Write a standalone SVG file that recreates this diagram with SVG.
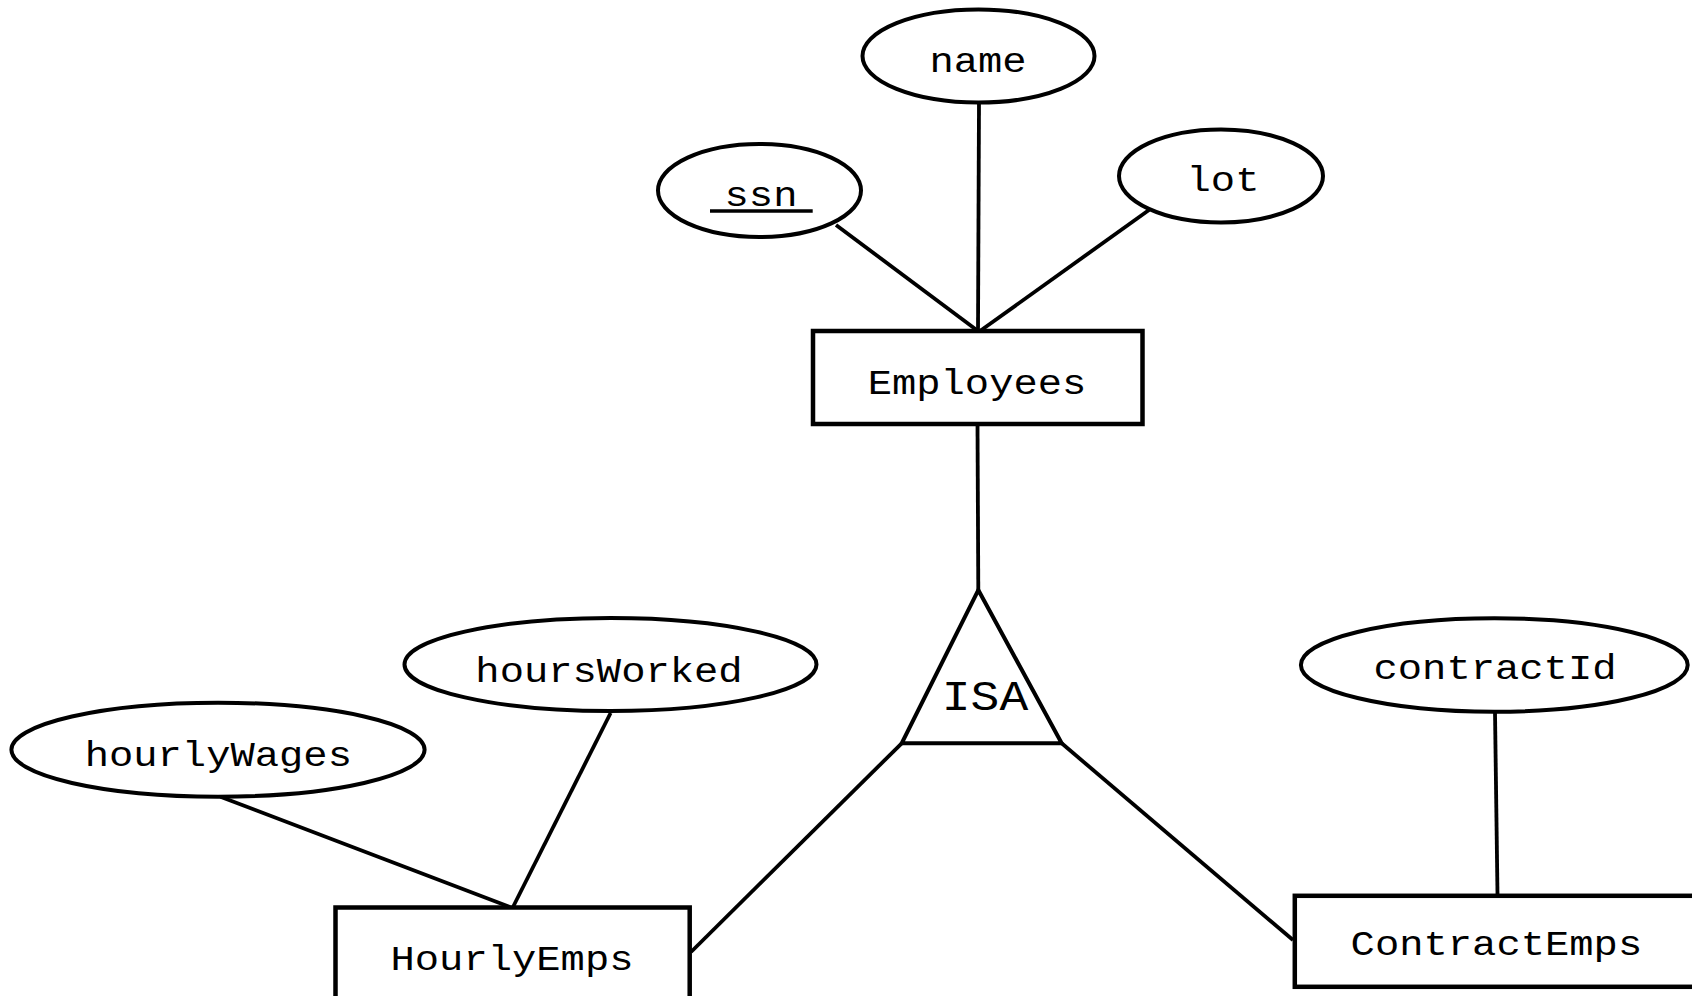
<svg xmlns="http://www.w3.org/2000/svg" width="1692" height="996" viewBox="0 0 1692 996">
  <style>
    .entity { fill: #ffffff; stroke: #000000; stroke-width: 4.5; }
    .attr { fill: #ffffff; stroke: #000000; stroke-width: 4; }
    .isa { fill: #ffffff; stroke: #000000; stroke-width: 4; stroke-linejoin: miter; }
    .link { stroke: #000000; stroke-width: 3.8; fill: none; }
    .label { font-family: "Liberation Mono", "Courier New", monospace; font-size: 40.5px; fill: #000000; text-anchor: middle; }
    .isa-label { font-family: "Liberation Mono", "Courier New", monospace; font-size: 48px; fill: #000000; text-anchor: middle; }
  </style>
  <rect x="0" y="0" width="1692" height="996" fill="#ffffff"/>

  <!-- connectors -->
  <g id="connectors">
    <line class="link" x1="836" y1="225" x2="978" y2="331"/>
    <line class="link" x1="979" y1="103" x2="978" y2="331"/>
    <line class="link" x1="1149" y1="210" x2="980" y2="331"/>
    <line class="link" x1="977.5" y1="424" x2="978.3" y2="590"/>
    <line class="link" x1="901.7" y1="743.3" x2="691" y2="952"/>
    <line class="link" x1="1061.7" y1="743.3" x2="1293" y2="940"/>
    <line class="link" x1="1495" y1="712" x2="1497.5" y2="895"/>
    <line class="link" x1="220.4" y1="796.7" x2="510" y2="907"/>
    <line class="link" x1="610.6" y1="713" x2="513" y2="907"/>
  </g>

  <!-- attributes (labels are set on their baseline, with a slightly flattened glyph height) -->
  <g id="attr-name">
    <ellipse class="attr" cx="978.5" cy="56" rx="116" ry="46.5"/>
    <text class="label" transform="translate(978 71.5) scale(1 0.85)">name</text>
  </g>
  <g id="attr-ssn">
    <ellipse class="attr" cx="759.5" cy="190.5" rx="101.5" ry="46.5"/>
    <text class="label" transform="translate(761 205.5) scale(1 0.85)">ssn</text>
    <line x1="710" y1="211" x2="812.7" y2="211" stroke="#000000" stroke-width="3.5"/>
  </g>
  <g id="attr-lot">
    <ellipse class="attr" cx="1221" cy="176" rx="102" ry="46.5"/>
    <text class="label" transform="translate(1223 191) scale(1 0.85)">lot</text>
  </g>
  <g id="attr-hoursWorked">
    <ellipse class="attr" cx="610.5" cy="664.5" rx="206" ry="46.5"/>
    <text class="label" transform="translate(609 681.5) scale(1 0.85)">hoursWorked</text>
  </g>
  <g id="attr-hourlyWages">
    <ellipse class="attr" cx="218" cy="749.7" rx="206.6" ry="47"/>
    <text class="label" transform="translate(218.3 765.5) scale(1 0.85)">hourlyWages</text>
  </g>
  <g id="attr-contractId">
    <ellipse class="attr" cx="1494.3" cy="665" rx="193.4" ry="46.7"/>
    <text class="label" transform="translate(1495 679) scale(1 0.85)">contractId</text>
  </g>

  <!-- entities -->
  <g id="entity-Employees">
    <rect class="entity" x="813" y="331" width="329.5" height="93"/>
    <text class="label" transform="translate(977 393.5) scale(1 0.85)">Employees</text>
  </g>
  <g id="entity-HourlyEmps">
    <rect class="entity" x="335.5" y="907.5" width="354.2" height="100"/>
    <text class="label" transform="translate(512 969.5) scale(1 0.85)">HourlyEmps</text>
  </g>
  <g id="entity-ContractEmps">
    <rect class="entity" x="1294.8" y="895.8" width="404" height="91"/>
    <text class="label" transform="translate(1496.4 954.5) scale(1 0.85)">ContractEmps</text>
  </g>

  <!-- ISA hierarchy triangle -->
  <g id="isa">
    <polygon class="isa" points="978.3,590 1061.7,743.3 901.7,743.3"/>
    <text class="isa-label" transform="translate(985 710) scale(1 0.9)">ISA</text>
  </g>
</svg>
